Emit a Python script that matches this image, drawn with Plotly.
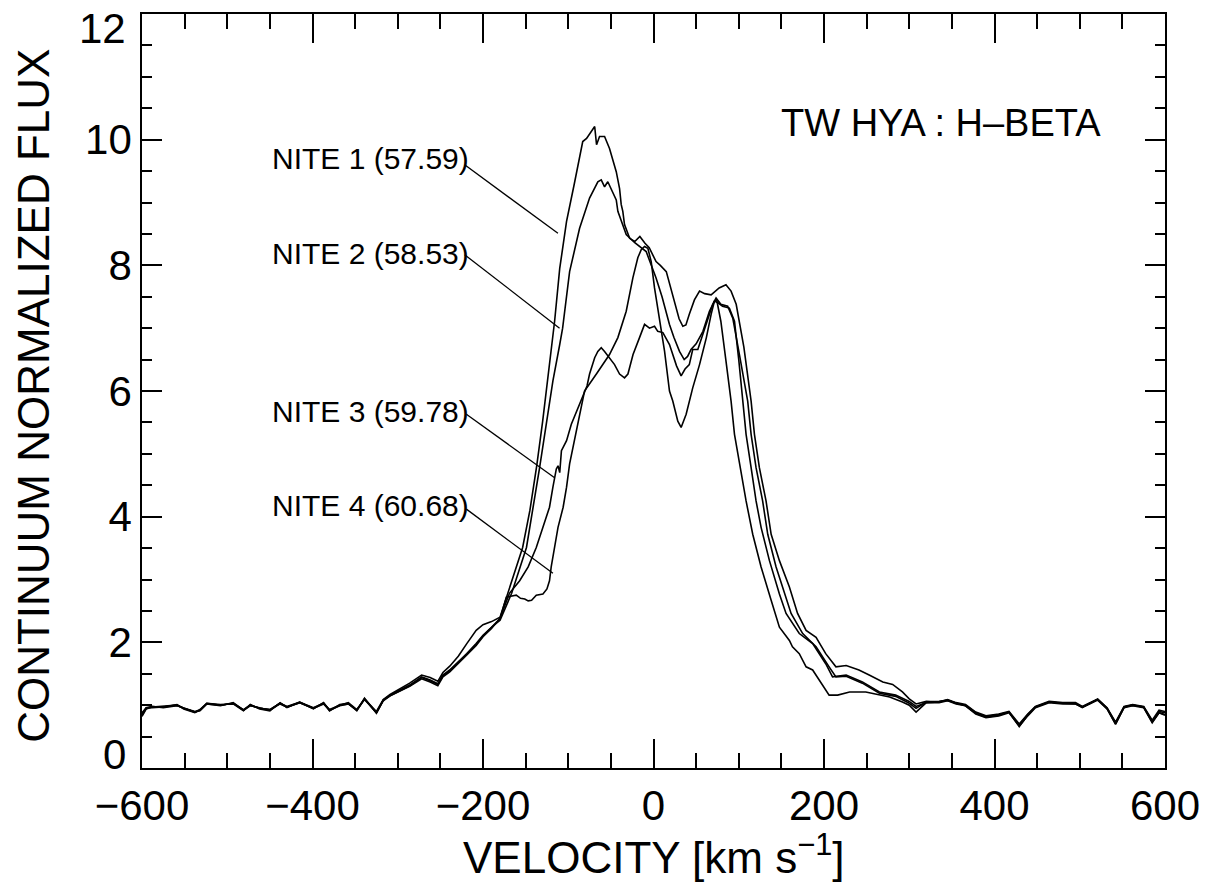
import plotly.graph_objects as go

# ---------------- data ----------------
blue_v = [-600, -595, -588, -575, -559, -551, -538, -532, -524, -508, -493, -481, -473, -462,
          -450, -438, -430, -415, -399, -387, -380, -368, -358, -348, -339, -325, -317, -309,
          -298, -286, -272, -262, -253, -247, -239, -229, -219, -208, -200, -190]
n1_blue = [0.84, 0.95, 0.97, 0.98, 1.00, 0.95, 0.89, 0.93, 1.03, 1.00, 1.03, 0.93, 1.00, 0.95,
           0.93, 1.03, 0.98, 1.05, 0.96, 1.03, 0.93, 1.00, 1.04, 0.93, 1.10, 0.90, 1.09, 1.17,
           1.26, 1.35, 1.48, 1.44, 1.38, 1.52, 1.62, 1.78, 1.98, 2.19, 2.28, 2.33]
n2_blue = [0.86, 0.96, 0.98, 0.96, 0.99, 0.96, 0.90, 0.91, 1.02, 0.99, 1.04, 0.92, 0.99, 0.96,
           0.92, 1.02, 0.97, 1.04, 0.95, 1.02, 0.92, 0.99, 1.02, 0.92, 1.09, 0.88, 1.07, 1.15,
           1.23, 1.31, 1.44, 1.39, 1.33, 1.47, 1.55, 1.68, 1.81, 1.97, 2.10, 2.24]
n3_blue = [0.88, 0.96, 0.96, 0.97, 1.01, 0.94, 0.88, 0.92, 1.03, 1.01, 1.02, 0.91, 1.01, 0.94,
           0.91, 1.04, 0.96, 1.05, 0.94, 1.04, 0.91, 1.01, 1.03, 0.91, 1.11, 0.87, 1.08, 1.15,
           1.22, 1.30, 1.42, 1.37, 1.31, 1.45, 1.53, 1.66, 1.80, 1.95, 2.09, 2.22]
n4_blue = [0.82, 0.94, 0.97, 0.97, 1.00, 0.95, 0.89, 0.92, 1.02, 1.00, 1.03, 0.92, 1.00, 0.95,
           0.93, 1.03, 0.97, 1.04, 0.95, 1.03, 0.92, 1.00, 1.02, 0.92, 1.10, 0.88, 1.08, 1.16,
           1.24, 1.32, 1.45, 1.40, 1.34, 1.48, 1.56, 1.69, 1.82, 1.98, 2.11, 2.24]

n1_core_v = [-180, -171, -162, -153.5, -145, -137, -130, -123, -116, -110, -102, -93, -83, -78.5,
             -72.7, -69, -66.8, -63.3, -57.4, -51.6, -43.7, -39.8, -37.9, -36, -34, -28, -22, -16,
             -10, -5, 3, 8, 15, 20, 26.6, 30, 34.4, 38, 42, 48, 54, 60, 67.6, 72, 77, 85, 91, 97,
             106, 114.5, 118.4, 124.2, 132, 138, 147.7, 159.4, 169, 179, 190.7, 202, 214, 226,
             241, 253, 269, 280.5, 292, 300]
n1_core_f = [2.40, 2.78, 3.14, 3.51, 4.10, 4.81, 5.52, 6.32, 7.11, 7.95, 8.70, 9.29, 9.97, 10.02,
             10.13, 10.21, 9.92, 10.05, 10.05, 9.86, 9.49, 9.22, 8.97, 8.86, 8.65, 8.43, 8.38, 8.46,
             8.35, 8.28, 8.06, 8.00, 7.90, 7.65, 7.32, 7.15, 7.03, 7.05, 7.22, 7.45, 7.59, 7.55,
             7.53, 7.58, 7.64, 7.69, 7.59, 7.38, 6.70, 5.84, 5.31, 4.78, 4.25, 3.72, 3.30, 2.88,
             2.46, 2.19, 2.08, 1.82, 1.61, 1.63, 1.56, 1.48, 1.37, 1.33, 1.21, 1.10]

n2_core_v = [-180, -166.4, -149, -133.6, -125.4, -118, -110, -106.6, -98.4, -86.7, -75, -65.3,
             -61.3, -57.4, -53.6, -47.7, -43.7, -41.8, -37.9, -32, -22, -8.6, 3, 10, 18.75, 24,
             30.5, 36, 40, 44, 50, 58, 65.6, 71.5, 76, 81, 89, 95, 100, 104.7, 108.6, 114.5,
             120.3, 126.2, 136, 147.7, 155.5, 171, 186.7, 202, 210, 226, 245, 265, 284, 300]
n2_core_f = [2.35, 2.78, 3.51, 4.78, 5.52, 6.16, 6.74, 7.00, 7.90, 8.59, 9.07, 9.33, 9.36, 9.25,
             9.33, 9.17, 9.04, 8.86, 8.70, 8.49, 8.36, 8.22, 7.80, 7.50, 7.06, 6.85, 6.63, 6.50,
             6.55, 6.66, 6.75, 6.95, 7.27, 7.43, 7.40, 7.35, 7.32, 7.11, 6.50, 5.84, 5.31, 4.78,
             4.25, 3.83, 3.30, 2.77, 2.46, 2.14, 1.98, 1.66, 1.45, 1.48, 1.37, 1.21, 1.16, 1.06]

n3_core_v = [-180, -169, -157, -147, -137.5, -129.7, -122, -118, -114, -112, -110, -108, -102,
             -96.4, -88.7, -82.9, -78, -75, -69, -65.3, -61.3, -57.4, -51.6, -45.7, -39.8, -34,
             -30, -24, -16.4, -10.5, -4.7, 1.2, 5, 11, 18.75, 22.6, 27, 32.4, 37, 42, 46, 52, 62,
             69.5, 73.4, 79, 87, 93, 100.8, 110.5, 114.5, 120.3, 128, 134, 143.8, 153.5, 161.4,
             175, 190.7, 206, 214, 226, 245, 265, 284, 300]
n3_core_f = [2.38, 2.78, 2.98, 3.20, 3.51, 3.83, 4.15, 4.47, 4.76, 4.81, 4.70, 5.05, 5.21, 5.47,
             5.73, 5.92, 6.08, 6.27, 6.53, 6.63, 6.69, 6.63, 6.53, 6.42, 6.27, 6.21, 6.27, 6.58,
             6.85, 7.06, 7.00, 7.03, 6.95, 6.93, 6.74, 6.58, 6.40, 6.24, 6.35, 6.42, 6.66, 6.66,
             7.06, 7.38, 7.48, 7.38, 7.35, 7.16, 6.58, 5.84, 5.31, 4.78, 4.25, 3.72, 3.20, 2.77,
             2.46, 2.14, 1.93, 1.61, 1.45, 1.46, 1.35, 1.19, 1.14, 1.03]

n4_core_v = [-180, -172.6, -166, -161, -156, -151, -147, -143, -137.5, -129.7, -125, -122, -120,
             -116, -112, -106, -102, -98.4, -94.6, -90.6, -86.7, -82.9, -80.9, -67, -51.6, -41.8,
             -32, -24.2, -18.4, -14.4, -10.5, -6.6, -2.7, 1.2, 7, 13, 18.75, 22.6, 28.5, 32.4,
             38.3, 46, 54, 62, 67.6, 71.5, 74, 79, 85, 91, 95, 102.8, 108.6, 116.4, 126.2, 138,
             147.7, 159.4, 163, 171, 179, 186.7, 194.5, 206, 216, 230, 249, 265, 277, 292, 300]
n4_core_f = [2.38, 2.72, 2.74, 2.75, 2.70, 2.69, 2.66, 2.67, 2.75, 2.77, 2.85, 2.98, 3.20, 3.51,
             3.83, 4.15, 4.47, 4.84, 5.10, 5.37, 5.63, 5.89, 6.00, 6.27, 6.58, 6.85, 7.27, 7.80,
             8.12, 8.25, 8.30, 8.27, 8.06, 7.64, 7.16, 6.63, 6.00, 5.84, 5.52, 5.42, 5.63, 6.05,
             6.42, 6.85, 7.22, 7.43, 7.46, 7.11, 6.48, 5.84, 5.31, 4.68, 4.25, 3.72, 3.20, 2.67,
             2.24, 2.03, 1.93, 1.82, 1.61, 1.56, 1.40, 1.16, 1.16, 1.21, 1.21, 1.16, 1.13, 1.05,
             1.00]

red_v = [308, 320, 335, 345, 355, 366, 378, 390, 405, 417, 429, 439, 448, 464, 480, 495, 503,
         521, 532, 542, 552, 562, 575, 585, 593, 600]
n1_red = [1.02, 1.06, 1.05, 1.09, 1.04, 1.01, 0.89, 0.83, 0.86, 0.90, 0.70, 0.86, 0.98, 1.06,
          1.04, 1.04, 0.98, 1.10, 0.96, 0.73, 0.98, 1.01, 0.98, 0.76, 0.92, 0.90]
n2_red = [0.98, 1.04, 1.04, 1.07, 1.02, 0.99, 0.86, 0.80, 0.83, 0.88, 0.67, 0.83, 0.96, 1.04,
          1.02, 1.02, 0.96, 1.08, 0.94, 0.70, 0.96, 0.99, 0.96, 0.72, 0.88, 0.85]
n3_red = [0.95, 1.05, 1.06, 1.08, 1.03, 1.00, 0.88, 0.82, 0.85, 0.89, 0.69, 0.85, 0.97, 1.05,
          1.03, 1.03, 0.97, 1.09, 0.95, 0.72, 0.97, 1.00, 0.97, 0.74, 0.90, 0.88]
n4_red = [0.89, 1.04, 1.05, 1.08, 1.03, 0.99, 0.87, 0.81, 0.84, 0.89, 0.66, 0.84, 0.97, 1.05,
          1.03, 1.02, 0.97, 1.09, 0.95, 0.70, 0.97, 1.00, 0.97, 0.73, 0.88, 0.84]

night_labels = ["NITE 1 (57.59)", "NITE 2 (58.53)", "NITE 3 (59.78)", "NITE 4 (60.68)"]
title_text = "TW HYA : H\u2013BETA"
y_tick_vals = [2, 4, 6, 8, 10]
y_end_labels = ["0", "12"]

# ---------------- figure ----------------
FONT = "Liberation Sans, Arial, Helvetica, sans-serif"
fig = go.Figure()

nights = [
    (n1_blue, n1_core_v, n1_core_f, n1_red),
    (n2_blue, n2_core_v, n2_core_f, n2_red),
    (n3_blue, n3_core_v, n3_core_f, n3_red),
    (n4_blue, n4_core_v, n4_core_f, n4_red),
]
for (bl, cv, cf, rd), name in zip(nights, night_labels):
    fig.add_trace(go.Scatter(
        x=blue_v + cv + red_v,
        y=bl + cf + rd,
        mode="lines",
        line=dict(color="black", width=1.6),
        name=name,
        showlegend=False,
    ))

# label texts and pointer lines (positions in data coordinates)
label_y = [9.70, 8.19, 5.67, 4.18]
ptr_start = [(-221.5, 9.60), (-221.5, 8.17), (-219.5, 5.63), (-219.5, 4.12)]
ptr_end = [(-112.1, 8.51), (-110.2, 7.00), (-116.0, 4.62), (-118.0, 3.10)]
for txt, ly, (x0, y0), (x1, y1) in zip(night_labels, label_y, ptr_start, ptr_end):
    fig.add_annotation(x=-450, y=ly, xref="x", yref="y", text=txt, showarrow=False,
                       xanchor="left", yanchor="middle",
                       font=dict(family=FONT, size=30, color="black"))
    fig.add_shape(type="line", x0=x0, y0=y0, x1=x1, y1=y1, xref="x", yref="y",
                  line=dict(color="black", width=1.3))

fig.add_annotation(x=337.5, y=10.26, xref="x", yref="y", text=title_text, showarrow=False,
                   xanchor="center", yanchor="middle",
                   font=dict(family=FONT, size=38, color="black"))

# end labels of the y axis (lifted / lowered inside the axis span as in the original)
for lab, ypos in zip(y_end_labels, [0.0185, 0.9805]):
    fig.add_annotation(x=-0.0137, y=ypos, xref="paper", yref="paper", text=lab,
                       showarrow=False, xanchor="right", yanchor="middle",
                       font=dict(family=FONT, size=42, color="black"))

# axis titles
fig.add_annotation(x=0.5, y=-0.115, xref="paper", yref="paper",
                   text="VELOCITY [km s<sup>\u22121</sup>]", showarrow=False,
                   xanchor="center", yanchor="middle",
                   font=dict(family=FONT, size=44, color="black"))
fig.add_annotation(x=-0.106, y=0.493, xref="paper", yref="paper",
                   text="CONTINUUM NORMALIZED FLUX", showarrow=False, textangle=-90,
                   xanchor="center", yanchor="middle",
                   font=dict(family=FONT, size=44, color="black"))

axis_common = dict(showgrid=False, zeroline=False, showline=True, linecolor="black",
                   linewidth=1.6, mirror="ticks", ticks="inside", tickcolor="black",
                   tickwidth=1.5, tickfont=dict(family=FONT, size=42, color="black"))

fig.update_xaxes(range=[-600, 600], tick0=-600, dtick=200, ticklen=29,
                 minor=dict(ticks="inside", dtick=50, ticklen=15, tickcolor="black",
                            tickwidth=1.5),
                 **axis_common)
fig.update_yaxes(range=[0, 12], tickmode="array", tickvals=y_tick_vals,
                 ticklen=20,
                 minor=dict(ticks="inside", tick0=0, dtick=0.5, ticklen=10, tickcolor="black",
                            tickwidth=1.5),
                 **axis_common)

fig.update_layout(
    width=1212, height=884,
    margin=dict(l=142, r=46, t=12, b=116),
    paper_bgcolor="white", plot_bgcolor="white",
    font=dict(family=FONT, color="black"),
)

fig.write_html("out.html")
